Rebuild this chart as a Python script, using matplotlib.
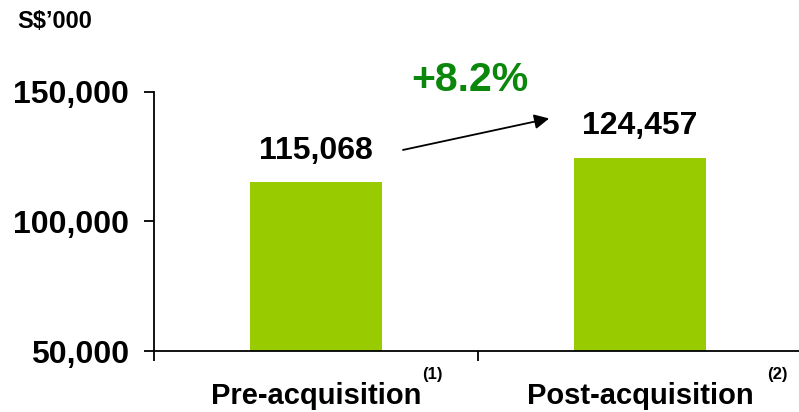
import matplotlib
matplotlib.use('Agg')
import matplotlib.pyplot as plt
import numpy as np

plt.rcParams['font.family'] = ['Liberation Sans', 'DejaVu Sans']
plt.rcParams['font.weight'] = 'bold'

BAR = '#99CC00'
GREEN = '#0B870B'

categories = ['Pre-acquisition', 'Post-acquisition']
notes = ['(1)', '(2)']
values = [115068, 124457]
value_labels = ['115,068', '124,457']
growth = '+8.2%'
yticks = [50000, 100000, 150000]
ytick_labels = ['50,000', '100,000', '150,000']

fig = plt.figure(figsize=(7.99, 4.12), dpi=100)
# axes spans pixel x 154..802, y 92..351
ax = fig.add_axes([154/799, (412-351)/412, 648/799, (351-92)/412])

x = np.arange(len(categories))
ax.bar(x, values, width=0.405, color=BAR, bottom=0, zorder=2)
ax.set_xlim(-0.5, 1.5)
ax.set_ylim(50000, 150000)

for s in ['top', 'right']:
    ax.spines[s].set_visible(False)
for s in ['left', 'bottom']:
    ax.spines[s].set_linewidth(1.3)

ax.set_yticks(yticks)
ax.set_yticklabels(ytick_labels, fontsize=23, fontweight='bold')
ax.tick_params(axis='y', direction='out', length=7, width=1.3, pad=11)

ax.set_xticks(x)
ax.set_xticklabels(categories, fontsize=21, fontweight='bold')
ax.tick_params(axis='x', which='major', length=0, pad=22)
ax.set_xticks([-0.5, 0.5, 1.5], minor=True)
ax.tick_params(axis='x', which='minor', direction='out', length=7, width=1.3)

for xi, v, lab in zip(x, values, value_labels):
    ax.annotate(lab, xy=(xi, v), xytext=(0, 12), textcoords='offset points',
                ha='center', va='bottom', fontsize=23, fontweight='bold')

for xi, n in zip([0.358, 1.423], notes):
    ax.text(xi, -0.09, n, transform=ax.get_xaxis_transform(),
            ha='center', va='center', fontsize=12, fontweight='bold', clip_on=False)

ax.annotate('', xy=(0.614, 0.90), xytext=(0.38, 0.774), xycoords='axes fraction',
            arrowprops=dict(arrowstyle='-|>', color='black', lw=1.3, mutation_scale=22))
ax.text(0.488, 1.045, growth, transform=ax.transAxes, ha='center', va='center',
        fontsize=29.5, fontweight='bold', color=GREEN)

fig.text(17/799, 1 - 22/412, 'S$\u2019000', ha='left', va='center', fontsize=17, fontweight='bold')

plt.savefig('out.png', dpi=100)
